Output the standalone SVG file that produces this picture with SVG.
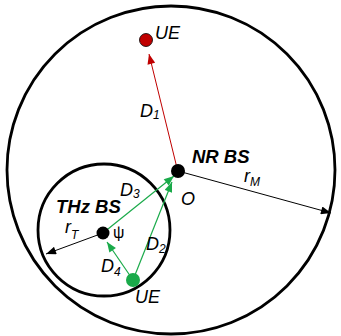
<svg xmlns="http://www.w3.org/2000/svg" width="341" height="336" viewBox="0 0 341 336">
<style>
.lbl{font-family:"Liberation Sans",Arial,sans-serif;font-size:18px;font-style:italic;fill:#000}
.b{font-weight:bold;font-size:18.5px}
.sub{font-size:12px}
.circ{fill:none;stroke:#000;stroke-width:2.8}
</style>
<defs>
<marker id="ak" viewBox="0 0 10 8" refX="10" refY="4" markerWidth="11" markerHeight="8" markerUnits="userSpaceOnUse" orient="auto"><path d="M0,0L10,4L0,8z" fill="#000"/></marker>
<marker id="ar" viewBox="0 0 10 8" refX="10" refY="4" markerWidth="11" markerHeight="8" markerUnits="userSpaceOnUse" orient="auto"><path d="M0,0L10,4L0,8z" fill="#c00000"/></marker>
<marker id="ag" viewBox="0 0 10 8" refX="10" refY="4" markerWidth="11" markerHeight="8" markerUnits="userSpaceOnUse" orient="auto"><path d="M0,0L10,4L0,8z" fill="#1aaa4a"/></marker>
</defs>
<g id="macro-cell"><circle class="circ" cx="171" cy="170" r="164"/></g>
<g id="thz-cell"><circle class="circ" cx="104" cy="230" r="66"/></g>
<g id="connectors">
<line x1="177" y1="168" x2="149" y2="54" stroke="#c00000" stroke-width="1" marker-end="url(#ar)"/>
<line x1="178" y1="171" x2="331" y2="213" stroke="#000" stroke-width="1" marker-end="url(#ak)"/>
<line x1="103" y1="233" x2="46" y2="254" stroke="#000" stroke-width="1" marker-end="url(#ak)"/>
<line x1="103" y1="233" x2="174" y2="176" stroke="#1aaa4a" stroke-width="1.2" marker-end="url(#ag)"/>
<line x1="133" y1="280" x2="172" y2="182" stroke="#1aaa4a" stroke-width="1.2" marker-end="url(#ag)"/>
<line x1="133" y1="280" x2="107" y2="242" stroke="#1aaa4a" stroke-width="1.2" marker-end="url(#ag)"/>
</g>
<g id="nr-bs"><circle cx="178" cy="171" r="7" fill="#000"/>
<text class="lbl b" x="192" y="163">NR BS</text>
<text class="lbl" x="181" y="205">O</text></g>
<g id="ue-red"><circle cx="146" cy="40" r="6.5" fill="#c00000" stroke="#000" stroke-width="0.8"/>
<text class="lbl" x="155" y="39">UE</text></g>
<g id="thz-bs"><circle cx="103" cy="233" r="6.5" fill="#000"/>
<text class="lbl b" x="56" y="213">THz BS</text>
<text class="lbl" x="113" y="238" style="font-style:normal;font-size:16px">ψ</text></g>
<g id="ue-green"><circle cx="133" cy="280" r="7" fill="#1aaa4a"/>
<text class="lbl" x="135" y="303">UE</text></g>
<g id="labels">
<text class="lbl" x="140" y="117">D<tspan class="sub" dy="2">1</tspan></text>
<text class="lbl" x="120" y="196">D<tspan class="sub" dy="2">3</tspan></text>
<text class="lbl" x="146" y="250">D<tspan class="sub" dy="3">2</tspan></text>
<text class="lbl" x="101" y="272">D<tspan class="sub" dy="4">4</tspan></text>
<text class="lbl" x="244" y="182">r<tspan class="sub" dy="4">M</tspan></text>
<text class="lbl" x="65" y="233">r<tspan class="sub" dy="6">T</tspan></text>
</g>
</svg>
